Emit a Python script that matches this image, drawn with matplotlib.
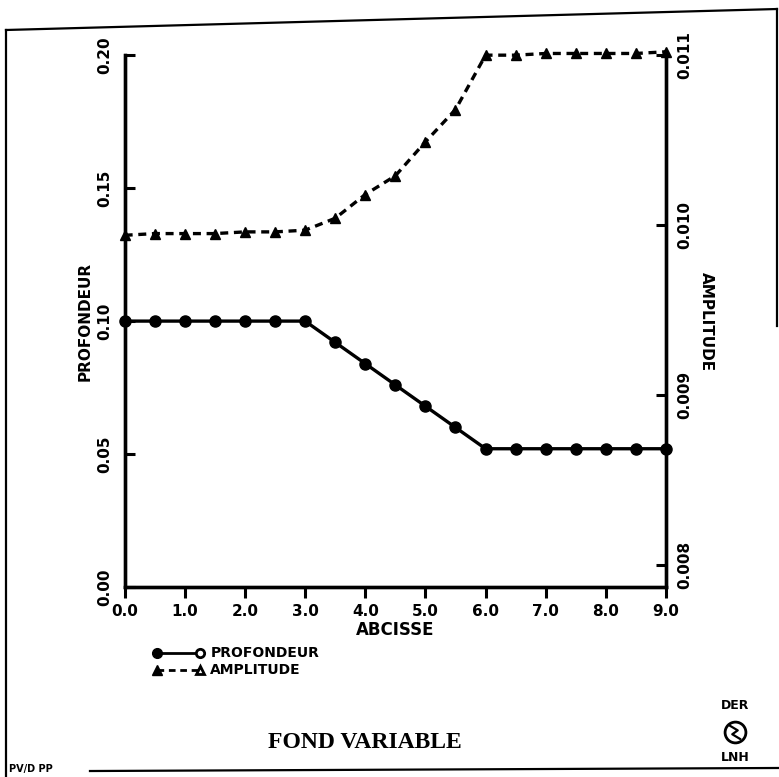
import matplotlib
matplotlib.use('Agg')
import matplotlib.pyplot as plt
from matplotlib.lines import Line2D
import numpy as np

# data
abcisse = [0.0, 0.5, 1.0, 1.5, 2.0, 2.5, 3.0, 3.5, 4.0, 4.5,
           5.0, 5.5, 6.0, 6.5, 7.0, 7.5, 8.0, 8.5, 9.0]
profondeur = [0.100, 0.100, 0.100, 0.100, 0.100, 0.100, 0.100, 0.092, 0.084, 0.076,
              0.068, 0.060, 0.052, 0.052, 0.052, 0.052, 0.052, 0.052, 0.052]
amplitude = [0.00994, 0.00995, 0.00995, 0.00995, 0.00996, 0.00996, 0.00997, 0.01004,
             0.01018, 0.01029, 0.01049, 0.01068, 0.01100, 0.01100, 0.01101,
             0.01101, 0.01101, 0.01101, 0.01102]
xticks = [0, 1, 2, 3, 4, 5, 6, 7, 8, 9]
yticks_left = [0.00, 0.05, 0.10, 0.15, 0.20]
yticks_right = [0.008, 0.009, 0.010, 0.011]

bold = dict(family='DejaVu Sans', weight='bold')

fig = plt.figure(figsize=(7.79, 7.77), dpi=100)
ax = fig.add_axes([0.160, 0.2445, 0.695, 0.6845])
ax2 = ax.twinx()

ax.plot(abcisse, profondeur, '-o', color='black', lw=2.4, ms=8, clip_on=False, zorder=5)
ax2.plot(abcisse, amplitude, '--^', color='black', lw=2.4, ms=7.5, dashes=(2.4, 1.7),
         clip_on=False, zorder=5)

ax.set_xlim(0, 9)
ax.set_ylim(0, 0.2)
ax2.set_ylim(0.00787, 0.011)

for a in (ax, ax2):
    a.spines['top'].set_visible(False)
    for s in ('left', 'right', 'bottom'):
        a.spines[s].set_linewidth(2.4)

ax.set_xticks(xticks)
ax.set_xticklabels(['%.1f' % v for v in xticks], fontsize=11, **bold)
ax.tick_params(axis='x', direction='out', length=8, width=2.2, pad=4)

ax.set_yticks(yticks_left)
ax.set_yticklabels(['%.2f' % v for v in yticks_left], rotation=90, va='center',
                   fontsize=11, **bold)
ax.tick_params(axis='y', direction='in', length=7, width=2.2, pad=9)

ax2.set_yticks(yticks_right)
ax2.set_yticklabels(['%.3f' % v for v in yticks_right], rotation=90, va='center',
                    fontsize=11, **bold)
ax2.tick_params(axis='y', direction='in', length=7, width=2.2, pad=8)

ax.set_xlabel('ABCISSE', fontsize=12, labelpad=2, **bold)
ax.set_ylabel('PROFONDEUR', fontsize=11, labelpad=3, **bold)
ax2.set_ylabel('AMPLITUDE', fontsize=11, rotation=-90, labelpad=16, **bold)

# hand drawn style legend below the axes
lx0, lx1 = 0.2015, 0.257
for y, ls, mk, lab in [(0.1596, '-', 'o', 'PROFONDEUR'), (0.1377, '--', '^', 'AMPLITUDE')]:
    fig.add_artist(Line2D([lx0, lx1], [y, y], ls=ls, color='black', lw=2.0,
                          dashes=(2.4, 1.7) if ls == '--' else (None, None)))
    fig.add_artist(Line2D([lx0], [y], marker=mk, color='black', ms=7))
    fig.add_artist(Line2D([lx1], [y], marker=mk, color='black', mfc='white', ms=6, mew=2))
    fig.text(0.270, y, lab, va='center', ha='left', fontsize=10, **bold)

fig.text(0.4685, 0.045, 'FOND VARIABLE', ha='center', va='center', fontsize=17,
         family='Liberation Serif', weight='bold')

# logo
fig.text(0.9435, 0.0914, 'DER', ha='center', va='center', fontsize=9, **bold)
fig.text(0.9435, 0.0245, 'LNH', ha='center', va='center', fontsize=9, **bold)
fig.add_artist(Line2D([0.9435], [0.0575], marker='o', ms=15, mfc='none', mec='black', mew=2))
fig.add_artist(Line2D([0.937, 0.947, 0.940, 0.950], [0.066, 0.060, 0.055, 0.049],
                      color='black', lw=1.6))

# scanned page frame
frame = dict(color='black', lw=1.6)
fig.add_artist(Line2D([0.0077, 0.9974], [0.9614, 0.9884], **frame))
fig.add_artist(Line2D([0.0077, 0.0077], [0.9614, 0.0], **frame))
fig.add_artist(Line2D([0.9974, 0.9974], [0.9884, 0.58], **frame))
fig.add_artist(Line2D([0.1155, 1.0], [0.0077, 0.0116], **frame))
fig.text(0.012, 0.004, 'PV/D PP', fontsize=7, ha='left', va='bottom', **bold)

fig.savefig('out.png', dpi=100)
